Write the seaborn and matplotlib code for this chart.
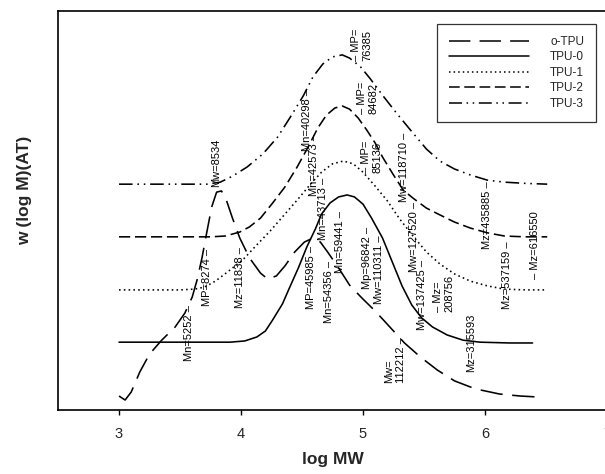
import numpy as np
import pandas as pd
import matplotlib
matplotlib.use("Agg")
import matplotlib.pyplot as plt
from matplotlib.lines import Line2D
import seaborn as sns

# --- curve data (x = log MW, y = w(log M), arbitrary units) ---
otpu_x = [3.00, 3.05, 3.10, 3.17, 3.25, 3.35, 3.46, 3.54, 3.60, 3.64, 3.68, 3.72, 3.76, 3.80,
          3.84, 3.88, 3.93, 3.99, 4.07, 4.16, 4.22, 4.29, 4.36, 4.44, 4.52, 4.59, 4.65, 4.71,
          4.80, 4.89, 4.99, 5.10, 5.22, 5.34, 5.47, 5.61, 5.75, 5.92, 6.12, 6.29, 6.41]
otpu_y = [3.5, 2.5, 4.5, 9.5, 14.0, 17.5, 20.8, 24.3, 28.3, 32.6, 38.1, 44.6, 50.9, 54.6,
          54.9, 52.6, 48.1, 43.1, 38.1, 34.3, 32.8, 33.6, 36.1, 39.6, 42.1, 43.1, 42.1, 39.6,
          35.6, 31.3, 28.1, 24.8, 20.8, 16.8, 13.3, 10.0, 7.3, 5.3, 4.0, 3.5, 3.3]

tpu0_x = [3.00, 3.34, 3.66, 3.91, 4.03, 4.13, 4.20, 4.26, 4.34, 4.40, 4.47, 4.54, 4.61, 4.66,
          4.73, 4.80, 4.87, 4.93, 5.00, 5.07, 5.16, 5.24, 5.32, 5.40, 5.48, 5.57, 5.69, 5.82,
          5.96, 6.20, 6.39]
tpu0_y = [17.0, 17.0, 17.0, 17.0, 17.3, 18.3, 19.8, 22.6, 26.6, 30.8, 35.6, 40.9, 45.4, 49.1,
          51.9, 53.4, 53.9, 53.4, 51.6, 48.1, 43.1, 37.1, 31.1, 26.3, 23.1, 20.8, 18.8, 17.5,
          17.0, 16.8, 16.8]

tpu1_x = [3.00, 3.25, 3.50, 3.62, 3.70, 3.79, 3.89, 4.02, 4.13, 4.24, 4.34, 4.46, 4.57, 4.66,
          4.75, 4.84, 4.92, 5.00, 5.10, 5.20, 5.30, 5.41, 5.52, 5.63, 5.75, 5.88, 6.02, 6.16,
          6.33, 6.51]
tpu1_y = [30.1, 30.1, 30.1, 30.3, 30.8, 32.3, 34.6, 37.8, 41.4, 44.9, 48.4, 52.6, 56.6, 59.6,
          61.7, 62.4, 61.7, 59.6, 56.1, 52.4, 47.9, 43.6, 39.6, 36.6, 34.1, 32.3, 31.1, 30.3,
          30.1, 30.1]

tpu2_x = [3.00, 3.25, 3.50, 3.75, 3.87, 3.99, 4.07, 4.16, 4.26, 4.36, 4.46, 4.55, 4.63, 4.70,
          4.77, 4.83, 4.89, 4.96, 5.03, 5.10, 5.16, 5.25, 5.33, 5.41, 5.52, 5.63, 5.75, 5.88,
          6.02, 6.16, 6.33, 6.51]
tpu2_y = [43.4, 43.4, 43.4, 43.4, 43.6, 44.6, 45.9, 48.1, 51.9, 55.9, 60.9, 65.9, 70.7, 73.9,
          75.7, 76.2, 75.4, 73.2, 70.2, 66.9, 63.4, 58.9, 55.1, 53.1, 50.6, 48.9, 47.1, 45.6,
          44.4, 43.6, 43.4, 43.4]

tpu3_x = [3.00, 3.25, 3.50, 3.72, 3.83, 3.93, 4.05, 4.18, 4.30, 4.40, 4.51, 4.59, 4.67, 4.75,
          4.83, 4.89, 4.98, 5.06, 5.16, 5.28, 5.41, 5.52, 5.63, 5.75, 5.88, 6.02, 6.16, 6.33,
          6.51]
tpu3_y = [56.6, 56.6, 56.6, 56.6, 57.1, 58.6, 60.9, 64.2, 68.4, 73.2, 78.7, 83.5, 86.7, 88.5,
          89.0, 88.2, 86.0, 83.0, 78.9, 74.2, 69.4, 65.4, 62.4, 60.4, 58.9, 57.6, 57.1, 56.8,
          56.6]

series_names = ["o-TPU", "TPU-0", "TPU-1", "TPU-2", "TPU-3"]

# --- molecular weight annotations ---
note_text = ["\u2013 MP=\n76385", "\u2013 MP=\n84682", "\u2013 MP=\n85136",
             "Mn=40298 \u2013", "Mn=42573 \u2013", "Mn=43713 \u2013",
             "MP=45985 \u2013", "Mn=54356 \u2013", "Mn=59441 \u2013",
             "Mp=96842 \u2013", "Mw=110311 \u2013", "Mw=\n112212 \u2013",
             "Mw=118710 \u2013", "Mw=127520 \u2013", "Mw=137425 \u2013",
             "\u2013 Mz=\n208756", "Mz=315593", "Mz=435885 \u2013",
             "Mz=537159 \u2013", "\u2013 Mz=616550", "Mw=8534",
             "MP=8274 \u2013", "Mz=11838 \u2013", "Mn=5252 \u2013"]
note_x = [4.99, 5.04, 5.07, 4.54, 4.60, 4.67, 4.57, 4.72, 4.81, 5.03, 5.13, 5.26,
          5.34, 5.42, 5.48, 5.66, 5.89, 6.02, 6.18, 6.41, 3.80, 3.72, 3.99, 3.57]
note_y = [91.5, 78.2, 63.4, 72.7, 61.4, 50.4, 33.1, 29.6, 42.1, 38.1, 35.1, 12.5,
          60.9, 43.4, 28.8, 29.3, 16.8, 48.9, 33.8, 41.4, 61.9, 33.1, 33.1, 19.3]

xticks = [3, 4, 5, 6, 7]

sns.set_theme(style="ticks")
plt.rcParams["font.family"] = ["Liberation Sans", "DejaVu Sans"]

fig = plt.figure(figsize=(6.05, 4.74), dpi=100)
ax = fig.add_axes([58 / 605, 64 / 474, 549 / 605, 399 / 474])

styles = [(0, (14, 6)), "-", (0, (1, 2)), (0, (7, 3)), (0, (8.5, 3, 1, 3, 1, 3))]
curves = [(otpu_x, otpu_y), (tpu0_x, tpu0_y), (tpu1_x, tpu1_y), (tpu2_x, tpu2_y), (tpu3_x, tpu3_y)]

for (xs, ys), ls in zip(curves, styles):
    sns.lineplot(x=xs, y=ys, ax=ax, color="black", linewidth=1.15, linestyle=ls,
                 estimator=None, sort=False)

for s, x, y in zip(note_text, note_x, note_y):
    ax.text(x, y, s, rotation=90, ha="center", va="center", fontsize=8,
            multialignment="left", color="black")

ax.set_xlim(2.5, 7.0)
ax.set_ylim(0, 100)
ax.set_xticks(xticks)
ax.set_xticklabels([str(t) for t in xticks], fontsize=10.5)
ax.set_yticks([])
ax.tick_params(axis="x", direction="out", length=3.5, width=1, pad=9, color="black")
for sp in ["left", "bottom", "top"]:
    ax.spines[sp].set_linewidth(1.2)
    ax.spines[sp].set_color("black")
ax.spines["right"].set_visible(False)

ax.set_xlabel("log MW", fontsize=12.5, fontweight="bold", labelpad=8)
ax.set_ylabel("w (log M)(AT)", fontsize=12.5, fontweight="bold")
ax.yaxis.set_label_coords(-0.047, 0.55)

handles = [Line2D([], [], color="black", linewidth=1.1, linestyle=ls) for ls in styles]
leg = ax.legend(handles, series_names, loc="upper right",
                bbox_to_anchor=(596 / 605, 1 - 24 / 474), bbox_transform=fig.transFigure,
                fontsize=8.5, handlelength=6.8, handletextpad=1.8, labelspacing=0.3,
                borderpad=1.0, frameon=True, fancybox=False, borderaxespad=0)
leg.get_frame().set_edgecolor("black")
leg.get_frame().set_linewidth(0.9)

fig.savefig("out.png", dpi=100)
